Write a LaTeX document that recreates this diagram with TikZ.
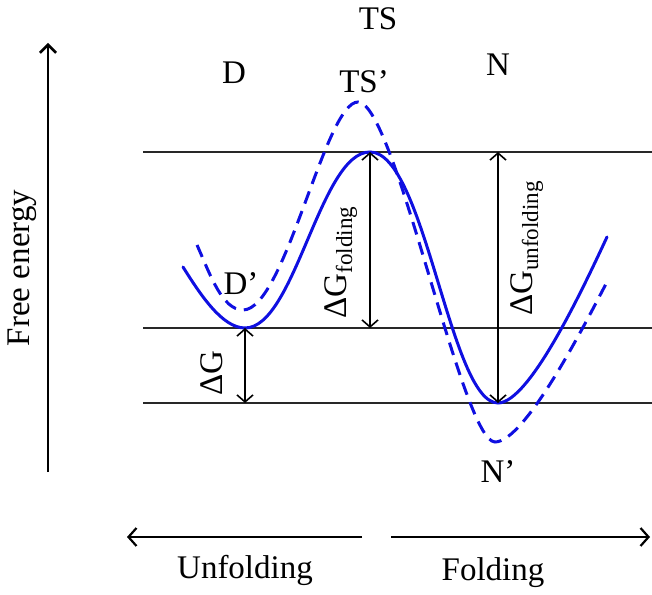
\documentclass[tikz,border=0pt]{standalone}
\usepackage{fontspec}
\setmainfont{Liberation Serif}
\usepackage{xcolor}
\usepackage{tikz}
\usetikzlibrary{arrows.meta, positioning, calc}
\definecolor{curveblue}{RGB}{15,15,225}
\definecolor{lineblack}{RGB}{40,40,40}
\tikzset{
  lbl/.style     = {inner sep=0pt, font=\fontsize{16.5}{19}\selectfont},
  level/.style   = {draw=lineblack, line width=0.8pt},
  gap/.style     = {{Straight Barb[length=3.5pt,width=8pt]}-{Straight Barb[length=3.5pt,width=8pt]},
                    line width=0.8pt, draw=black},
  axisarrow/.style = {-{Straight Barb[length=4pt,width=8pt]}, line width=1.3pt},
  dirarrow/.style  = {-{Straight Barb[length=4pt,width=9pt]}, line width=1.1pt},
  landscape/.style = {draw=curveblue, line width=1.5pt, line cap=round},
  shifted/.style   = {draw=curveblue, line width=1.5pt, dash pattern=on 6.5pt off 4pt},
}

\begin{document}
\begin{tikzpicture}[x=0.5pt, y=0.5pt]
  \useasboundingbox (0,0) rectangle (652,594);

  % free energy axis
  \coordinate (axbot) at (48,122);
  \coordinate (axtop) at (48,551);
  \draw[axisarrow] (axbot) -- (axtop);
  \node[lbl, rotate=90] (freeen) at (22,326) {Free energy};

  % energy levels
  \coordinate (tsL) at (143,442);  \coordinate (tsR) at (652,442);
  \coordinate (dL)  at (143,266);  \coordinate (dR)  at (652,266);
  \coordinate (nL)  at (143,191);  \coordinate (nR)  at (652,191);
  \draw[level] (tsL) -- (tsR);
  \draw[level] (dL) -- (dR);
  \draw[level] (nL) -- (nR);

  % minima and barrier
  \coordinate (tstop) at (370,442);
  \coordinate (dmin)  at (245,266);
  \coordinate (nmin)  at (498,191);

  % landscape, solid and shifted
  \draw[landscape] (183,327) .. controls (200,300) and (222,266) .. (dmin)
    .. controls (295,266) and (320,442) .. (tstop)
    .. controls (425,442) and (450,191) .. (nmin)
    .. controls (530,191) and (585,310) .. (607,357);
  \draw[shifted] (197,349) .. controls (210,320) and (222,284) .. (243,284)
    .. controls (285,284) and (325,492) .. (358,492)
    .. controls (395,492) and (462,152) .. (495,152)
    .. controls (525,152) and (585,270) .. (608,314);

  \draw[gap] (tstop) -- (tstop |- dmin);
  \draw[gap] (nmin |- tstop) -- (nmin);
  \draw[gap] (dmin) -- (dmin |- nmin);

  \node[lbl, rotate=90] (gfold)   at (341,332) {ΔG\textsubscript{folding}};
  \node[lbl, rotate=90] (gunfold) at (527,346) {ΔG\textsubscript{unfolding}};
  \node[lbl, rotate=90] (gdiff)   at (212,221) {ΔG};

  % state labels
  \node[lbl] (ts)  at (378,575) {TS};
  \node[lbl] (d)   at (234,521) {D};
  \node[lbl] (tsp) at (364,512) {TS’};
  \node[lbl] (n)   at (498,529) {N};
  \node[lbl] (dp)  at (241,310) {D’};
  \node[lbl] (np)  at (498,122) {N’};

  % direction
  \coordinate (unfR) at (362,57);  \coordinate (unfL) at (127,57);
  \coordinate (folL) at (391,57);  \coordinate (folR) at (650,57);
  \draw[dirarrow] (unfR) -- (unfL);
  \draw[dirarrow] (folL) -- (folR);
  \node[lbl] (unf) at (245,24) {Unfolding};
  \node[lbl] (fol) at (493,21) {Folding};
\end{tikzpicture}
\end{document}
